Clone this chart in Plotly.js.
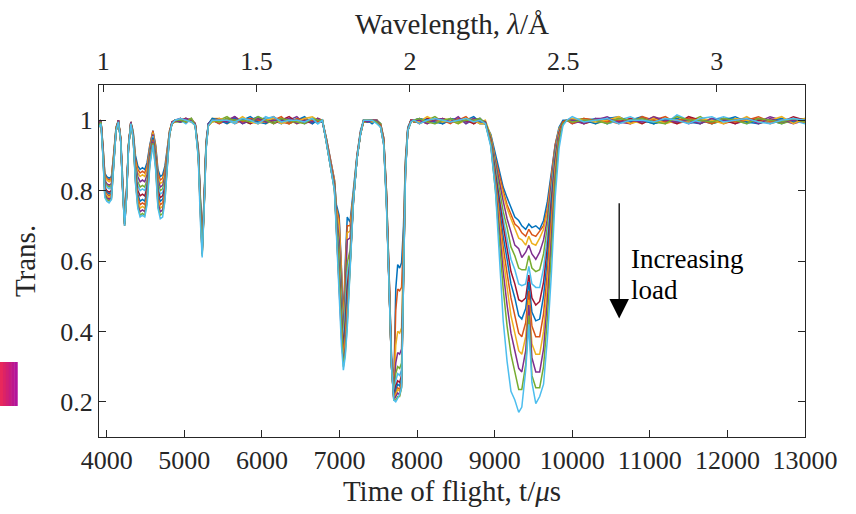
<!DOCTYPE html>
<html>
<head>
<meta charset="utf-8">
<script src="https://cdn.plot.ly/plotly-3.0.1.min.js"></script>
<style>html,body{margin:0;padding:0;background:#fff;}#chart{width:856px;height:514px;}</style>
</head>
<body>
<div id="chart"></div>
<script>
// Time-of-flight grid (microseconds), by segment
const tofA = [3900,3925,3950,3975,4000,4030,4060,4090,4120,4150,4180,4205,4230,4255,4280,4310,4340,4370,4400,4430,4460,4490,4520,4555,4595,4630,4660,4690,4720,4750,4780,4810,4840,4880];
const tofB = [4950,5020,5090,5140,5180,5205,5230,5255,5280,5310,5360];
const tofC = [5450,5550,5650,5750,5850,5950,6050,6150,6250,6350,6450,6550,6650,6720];
const tofD1 = [6780,6830,6890,6935,6960,6995,7025,7050,7075,7100,7135,7180,7225,7270,7310];
const tofD2 = [7360,7420,7480,7530,7570,7605,7640,7670,7700,7725,7750,7775,7800,7825,7850,7880,7920,7960];
const tofE = [8030,8130,8230,8330,8430,8530,8630,8730,8810];
const tofF = [8880,8950,9010,9060,9110,9160,9210,9260,9310,9350,9400,9440,9480,9530,9580,9630,9680,9730,9780,9830,9880,9930];
const tofG = [10000,10150,10300,10450,10600,10750,10900,11050,11200,11350,11500,11650,11800,11950,12100,12250,12400,12550,12700,12850,13000];

// Transmission for each load step (segments A | B | C | D1 | D2 | E | F | G)
const trans01 = [.99,1,.93,.85,.84,.835,.84,.90,.98,1,.95,.82,.72,.80,.93,.995,.97,.90,.87,.86,.865,.86,.88,.93,.97,.93,.86,.84,.845,.87,.92,.97,.99,1,
  1,.995,1,.99,.92,.78,.66,.78,.94,.99,1,
  1,.995,1.005,.99,1,1.01,.995,1,.99,1.005,1,.995,1,1,
  1,.95,.88,.83,.76,.73,.58,.43,.60,.725,.71,.80,.90,.97,1,
  1,.99,1,.99,.95,.80,.56,.33,.24,.52,.59,.58,.595,.70,.89,.98,1,.995,
  .995,1.005,1,.99,1,1.005,.995,1,.99,
  .99,.96,.90,.85,.81,.78,.75,.725,.715,.70,.69,.705,.695,.70,.69,.715,.77,.85,.93,.98,1,1,
  1,.995,1.005,.99,1,1,1.01,.99,1,.995,1.005,1,.99,1,1.005,.995,1,1,.99,1.005,1];
const trans02 = [1,.995,.93,.845,.835,.83,.835,.90,.98,.995,.95,.82,.72,.80,.93,.99,.965,.89,.86,.85,.855,.85,.87,.925,.97,.925,.85,.83,.835,.86,.915,.97,.99,1,
  .995,1,1.005,.99,.92,.775,.655,.775,.935,.99,1,
  .995,1.005,.99,1,1.005,.995,1,1.01,.995,.99,1,1.005,.995,.995,
  .995,.95,.875,.83,.75,.72,.57,.42,.58,.70,.70,.79,.90,.965,.995,
  .995,1,.995,.99,.95,.80,.555,.325,.235,.46,.52,.515,.525,.67,.88,.975,.995,1,
  1,.99,1.005,1,.995,1,1.01,.99,1,
  .99,.955,.89,.84,.80,.76,.73,.705,.695,.68,.67,.69,.675,.67,.685,.70,.75,.84,.93,.975,.995,1,
  .995,1.005,1,1,.99,1.005,.995,1,1.01,.99,1,.995,1.005,.99,1,1,1.005,.99,1,.995,1];
const trans03 = [.99,1,.925,.84,.83,.825,.83,.895,.975,1,.95,.815,.715,.795,.93,.995,.965,.88,.85,.84,.845,.84,.86,.92,.965,.92,.84,.82,.825,.85,.91,.97,.995,1,
  1,1.005,.995,.99,.915,.77,.65,.77,.935,.985,1.005,
  1.005,.99,1,1.005,.995,1,.99,1,1.005,1,.99,1,1.005,1,
  1,.945,.87,.825,.745,.70,.56,.40,.55,.68,.685,.79,.895,.965,1,
  1,.995,1,.985,.945,.795,.55,.32,.23,.36,.40,.395,.41,.63,.875,.975,1,1,
  .99,1,.995,1.005,1,.99,1,1.005,.995,
  1,.955,.885,.83,.79,.75,.72,.69,.665,.66,.645,.67,.65,.645,.665,.69,.74,.83,.92,.975,.995,1,
  1.005,.99,1,.995,1.005,1,.99,1.01,.995,1,1,.99,1.005,1,.995,1.01,.99,1,1.005,.995,.995];
const trans04 = [.985,.995,.92,.83,.82,.815,.82,.895,.975,.995,.945,.815,.715,.795,.925,.99,.96,.87,.84,.825,.83,.825,.845,.915,.96,.91,.83,.81,.815,.84,.91,.965,.99,1,
  1.005,.995,1,.985,.915,.765,.645,.77,.93,.99,1,
  .99,1,1.01,.995,1,.99,1.005,.995,1,1,1.01,.99,1,.995,
  1,.945,.87,.82,.735,.66,.53,.39,.52,.66,.665,.785,.895,.965,1,
  1,1,.995,.985,.945,.79,.545,.315,.225,.31,.34,.335,.35,.60,.87,.975,.995,1,
  1.005,.995,1,.99,1.005,1,.995,1,1.005,
  .99,.95,.88,.82,.77,.72,.685,.645,.635,.61,.625,.645,.62,.605,.625,.66,.72,.82,.92,.97,.995,1,
  .99,1,1,1.01,.995,.99,1.005,1,.995,1.005,.99,1,1,1.005,.99,1,.995,1.01,1,.99,1];
const trans05 = [.99,1,.92,.825,.815,.81,.815,.89,.975,1,.945,.81,.71,.79,.925,.995,.96,.865,.825,.81,.815,.81,.83,.91,.955,.905,.82,.80,.805,.83,.905,.965,.99,.995,
  .995,1,1,.99,.91,.76,.64,.765,.93,.985,.995,
  1,1.01,.995,1,.99,1.005,1,.995,1.005,.99,1,1,.995,1.005,
  .995,.945,.865,.82,.725,.63,.50,.38,.49,.595,.63,.78,.89,.96,.995,
  .995,1,1,.99,.94,.785,.54,.31,.22,.28,.30,.295,.31,.58,.865,.97,1,.995,
  .995,1,1.01,.995,1,.99,1.005,.995,1,
  .995,.95,.87,.80,.74,.695,.64,.615,.58,.575,.575,.615,.58,.57,.575,.62,.70,.80,.91,.97,.995,1,
  1,1.005,.99,1,1.005,.995,1,.99,1.005,1,.995,1.01,.99,1,1,.995,1.005,1,.99,1,1.005];
const trans06 = [1,.995,.915,.82,.81,.805,.81,.89,.97,.995,.945,.81,.71,.79,.925,.99,.96,.86,.815,.80,.805,.80,.82,.905,.955,.90,.81,.79,.795,.82,.90,.965,.99,1,
  1,.99,1.005,.985,.91,.755,.635,.76,.93,.99,1,
  .995,1,.99,1.005,1,.995,1.01,1,.99,1,1.005,.995,1,.99,
  1,.94,.865,.815,.715,.60,.47,.36,.46,.565,.61,.78,.89,.96,1,
  1,.995,.995,.985,.94,.78,.535,.31,.215,.26,.28,.275,.29,.57,.86,.97,.995,1,
  1,1.005,.99,1,1,1.005,.99,1,1.005,
  .99,.945,.86,.78,.72,.665,.605,.575,.535,.53,.535,.585,.535,.525,.525,.58,.67,.79,.90,.97,.99,1,
  .995,1,1.005,.99,1,1.01,.995,1,.99,1.015,1,.995,1,1.01,1,.99,1,.995,1.005,1,.99];
const trans07 = [.99,1,.915,.81,.80,.795,.80,.89,.97,1,.945,.81,.71,.79,.925,.995,.955,.85,.80,.785,.79,.785,.81,.90,.95,.895,.80,.78,.785,.81,.90,.965,.995,1,
  1,1.005,.995,.99,.905,.75,.63,.76,.925,.985,1,
  1.005,.995,1,1,.99,1,1.005,.99,1,1.01,.995,1,.99,1.005,
  1,.94,.86,.815,.71,.575,.45,.35,.43,.53,.595,.775,.89,.96,1,
  1,1,1,.985,.94,.78,.535,.305,.215,.245,.26,.255,.275,.56,.86,.97,1,1,
  .99,1.005,1,1.005,.995,1,1,.99,1,
  .99,.945,.85,.77,.70,.635,.57,.535,.49,.485,.495,.56,.495,.475,.485,.54,.64,.77,.89,.965,.995,1,
  1.005,.99,1,1,.995,1.005,.99,1.005,1,.99,1.01,1,.995,1,.99,1.005,1,1,.995,1.01,1];
const trans08 = [.985,.995,.91,.805,.795,.79,.795,.885,.97,.995,.94,.805,.705,.785,.92,.99,.955,.845,.79,.77,.775,.77,.80,.895,.95,.89,.79,.77,.775,.80,.895,.96,.99,1,
  .995,1,1,.985,.905,.745,.63,.755,.925,.99,1.005,
  1,.99,1.005,1,1.01,.995,.99,1.005,1,.995,1,1.01,.99,1,
  .995,.94,.86,.81,.705,.56,.43,.34,.41,.50,.59,.775,.89,.96,1,
  .995,.995,1,.98,.935,.775,.53,.305,.21,.235,.25,.245,.265,.555,.855,.97,.995,1,
  1.005,1,.995,.99,1.005,1,1,1.01,.995,
  .995,.94,.84,.75,.67,.605,.535,.495,.445,.435,.465,.54,.455,.43,.435,.50,.61,.75,.88,.96,.99,1,
  1,1,.99,1.005,1.01,.995,1,.99,1,1.005,.995,.99,1.005,1,1.01,.995,.99,1,1.005,.995,1];
const trans09 = [.99,1,.91,.80,.79,.785,.79,.885,.97,1,.94,.805,.705,.785,.92,.995,.955,.84,.78,.76,.765,.76,.79,.89,.945,.885,.78,.76,.765,.795,.89,.96,.99,.995,
  1.005,.995,1,.99,.90,.74,.625,.755,.925,.985,1,
  .99,1.005,1,.995,1.005,1,.995,1,1.01,.99,1.005,1,1,.995,
  1,.94,.86,.81,.70,.545,.41,.33,.39,.475,.585,.775,.89,.96,.995,
  1,1,.995,.985,.935,.775,.53,.30,.21,.225,.24,.235,.255,.55,.855,.97,1,.995,
  1,.995,1.005,1,.99,1.005,1,.995,1,
  .99,.94,.83,.73,.64,.565,.495,.445,.395,.385,.425,.515,.415,.385,.385,.45,.57,.72,.87,.96,.995,1,
  .99,1.005,1,.995,1,.99,1.01,1,.995,1,1.005,1,.99,1.005,.995,1,1.01,.995,1,1,.995];
const trans10 = [.98,.99,.905,.795,.785,.78,.785,.885,.97,.995,.94,.805,.705,.785,.92,.99,.95,.835,.77,.75,.755,.75,.78,.885,.94,.88,.775,.75,.755,.79,.89,.96,.99,1,
  1,1,.995,.985,.90,.735,.62,.75,.92,.985,.995,
  1.005,1,.995,1.01,.995,.99,1,1.005,.99,1,.995,1.005,1.01,1,
  1,.94,.86,.805,.695,.53,.40,.32,.37,.455,.58,.775,.89,.96,1,
  1,.995,1,.98,.935,.77,.525,.30,.21,.22,.235,.23,.25,.545,.85,.97,.995,1,
  .995,1.01,1,.995,1,.995,1.005,1,.99,
  .99,.935,.82,.71,.61,.525,.445,.395,.345,.335,.385,.49,.365,.335,.335,.40,.53,.69,.86,.955,.99,1,
  1.005,1,.995,1,1.01,.99,1,1.005,.99,1,.995,1.005,1,.99,1.005,1,.995,1,1.01,.99,1.005];
const trans11 = [.99,1,.905,.79,.78,.775,.78,.88,.97,1,.94,.80,.70,.78,.92,.995,.95,.83,.76,.74,.745,.74,.775,.88,.94,.875,.765,.74,.745,.785,.885,.96,.995,1,
  .995,1.005,1,.99,.90,.73,.62,.75,.92,.99,1,
  1,.995,1.01,.99,1,1.005,.995,1,1,1.005,.99,1,.995,1.005,
  .995,.94,.86,.805,.69,.52,.385,.31,.355,.435,.58,.77,.89,.96,1,
  .995,1,1,.98,.93,.77,.525,.30,.205,.215,.225,.22,.245,.54,.85,.97,1,1,
  1,.99,1,1.005,.995,1.01,.99,1.005,1,
  .995,.93,.81,.69,.57,.475,.395,.345,.295,.285,.345,.475,.325,.285,.285,.35,.49,.66,.84,.95,.99,1,
  1,.99,1.005,1.005,.995,1,.995,1.01,1,.995,1,.99,1.005,1,1,1.005,.99,1.005,.995,1,1];
const trans12 = [.985,.995,.90,.785,.775,.77,.775,.88,.97,.995,.94,.80,.70,.78,.92,.99,.95,.825,.755,.73,.735,.73,.77,.875,.935,.865,.755,.73,.735,.775,.88,.96,.99,1,
  1,.995,1.005,.985,.895,.725,.615,.745,.92,.985,1,
  .995,1.005,1,1,.995,1.01,1,.99,1.005,1,.995,.99,1.005,1,
  1,.94,.86,.80,.685,.51,.37,.30,.34,.42,.575,.77,.89,.96,1,
  1,1,.995,.98,.93,.765,.52,.30,.205,.205,.215,.215,.24,.52,.85,.97,.995,1,
  1.005,.995,.99,1,1.005,.995,1,1,1.005,
  .99,.93,.80,.66,.52,.415,.335,.285,.235,.235,.305,.445,.275,.24,.24,.30,.44,.62,.82,.94,.99,1,
  .995,1,1,.99,1.005,1,1.005,.995,.99,1.01,1,1,.995,1.005,1,.99,1.005,1,.995,1.005,.995];
const trans13 = [.98,.99,.90,.78,.77,.765,.775,.88,.97,.995,.94,.80,.70,.78,.92,.99,.95,.82,.75,.725,.73,.725,.76,.87,.93,.86,.75,.72,.725,.77,.88,.96,.99,1,
  1.005,1,.995,.985,.89,.72,.61,.745,.915,.985,1,
  1,1,.995,1.005,1,.99,1.005,1.01,.995,1,1,.995,1.005,.99,
  1,.94,.86,.80,.68,.50,.36,.29,.33,.41,.575,.77,.89,.96,1,
  1,1,.99,.98,.93,.76,.52,.30,.205,.20,.21,.22,.24,.50,.845,.97,.995,1,
  .99,1,1.005,1,.995,1,1.005,.995,1,
  .99,.925,.80,.62,.43,.315,.23,.205,.17,.185,.29,.42,.255,.195,.215,.25,.38,.56,.78,.92,.985,1,
  1.01,.995,1,1.005,.99,1,1,.995,1.005,1,.99,1.005,1.01,.995,1,1.005,.995,.99,1,1.005,1];

const series = [trans01,trans02,trans03,trans04,trans05,trans06,trans07,trans08,trans09,trans10,trans11,trans12,trans13];
const lineColors = ['#0072BD','#D95319','#EDB120','#7E2F8E','#77AC30','#4DBEEE','#A2142F'];

// Top axis: wavelength ticks; time of flight per angstrom (flight-path calibration)
const tofPerAngstrom = 3954;
const xRange = [3900, 13000];
const yRange = [0.1, 1.1];
const xTicks = [4000,5000,6000,7000,8000,9000,10000,11000,12000,13000];
const xTickText = ['4000','5000','6000','7000','8000','9000','10000','11000','12000','13000'];
const yTicks = [0.2,0.4,0.6,0.8,1];
const yTickText = ['0.2','0.4','0.6','0.8','1'];
const lambdaTicks = [1,1.5,2,2.5,3];
const lambdaTickText = ['1','1.5','2','2.5','3'];

const tof = [].concat(tofA,tofB,tofC,tofD1,tofD2,tofE,tofF,tofG);
series.forEach((s,i)=>{ if (s.length !== tof.length) throw new Error('series '+(i+1)+' has '+s.length+' values, grid has '+tof.length); });

const traces = series.map((s,i)=>({
  x: tof, y: s, type:'scatter', mode:'lines',
  line:{color: lineColors[i % lineColors.length], width:1.5},
  hoverinfo:'skip', showlegend:false
}));
// invisible trace to attach the wavelength axis
traces.push({x:lambdaTicks, y:lambdaTicks.map(()=>0.5), xaxis:'x2', yaxis:'y', mode:'markers',
  marker:{opacity:0}, hoverinfo:'skip', showlegend:false});

const axisColor = '#262626';
const fontFam = 'Liberation Serif';

const stripColors = ['#e8285c','#dc2366','#d11f72','#c71b80','#bd178d','#b3149a'];
const shapes = stripColors.map((c,k)=>({
  type:'rect', xref:'paper', yref:'paper', layer:'above',
  x0: -0.1402 + k*0.0041, x1: -0.1402 + (k+1)*0.0041 + 0.0005,
  y0: 0.0881, y1: 0.2131, fillcolor:c, line:{width:0}
}));

const layout = {
  width:856, height:514,
  margin:{l:99, r:51, t:85, b:77},
  paper_bgcolor:'#ffffff', plot_bgcolor:'#ffffff',
  font:{family:fontFam, size:26, color:axisColor},
  showlegend:false,
  xaxis:{
    range:xRange, tickvals:xTicks, ticktext:xTickText, ticks:'inside', ticklen:7, tickwidth:1, tickcolor:axisColor,
    showline:true, linecolor:axisColor, linewidth:1, mirror:false,
    showgrid:false, zeroline:false, tickfont:{size:26, family:fontFam, color:axisColor},
    title:{text:'Time of flight, t/<i>μ</i>s', font:{size:29, family:fontFam, color:axisColor}, standoff:6}
  },
  xaxis2:{
    overlaying:'x', side:'top', anchor:'y',
    range:[xRange[0]/tofPerAngstrom, xRange[1]/tofPerAngstrom],
    tickvals:lambdaTicks, ticktext:lambdaTickText, ticks:'inside', ticklen:7, tickwidth:1, tickcolor:axisColor,
    showline:true, linecolor:axisColor, linewidth:1, ticklabelstandoff:4,
    showgrid:false, zeroline:false, tickfont:{size:26, family:fontFam, color:axisColor},
    title:{text:'Wavelength, <i>λ</i>/Å', font:{size:29, family:fontFam, color:axisColor}, standoff:3}
  },
  yaxis:{
    range:yRange, tickvals:yTicks, ticktext:yTickText, ticks:'inside', ticklen:7, tickwidth:1, tickcolor:axisColor,
    showline:true, linecolor:axisColor, linewidth:1, mirror:'ticks',
    showgrid:false, zeroline:false, tickfont:{size:26, family:fontFam, color:axisColor},
    title:{text:'Trans.', font:{size:29, family:fontFam, color:axisColor}, standoff:16}
  },
  shapes: shapes,
  annotations:[
    {xref:'x', yref:'y', axref:'x', ayref:'y', x:10605, y:0.437, ax:10605, ay:0.768,
     showarrow:true, arrowhead:2, arrowsize:3, arrowwidth:1.3, arrowcolor:'#000000', text:''},
    {xref:'x', yref:'y', x:10725, y:0.607, xanchor:'left', yanchor:'middle', showarrow:false,
     text:'Increasing', font:{size:27, family:fontFam, color:'#000000'}},
    {xref:'x', yref:'y', x:10725, y:0.519, xanchor:'left', yanchor:'middle', showarrow:false,
     text:'load', font:{size:27, family:fontFam, color:'#000000'}}
  ]
};

Plotly.newPlot('chart', traces, layout, {displayModeBar:false, staticPlot:true});
</script>
</body>
</html>
